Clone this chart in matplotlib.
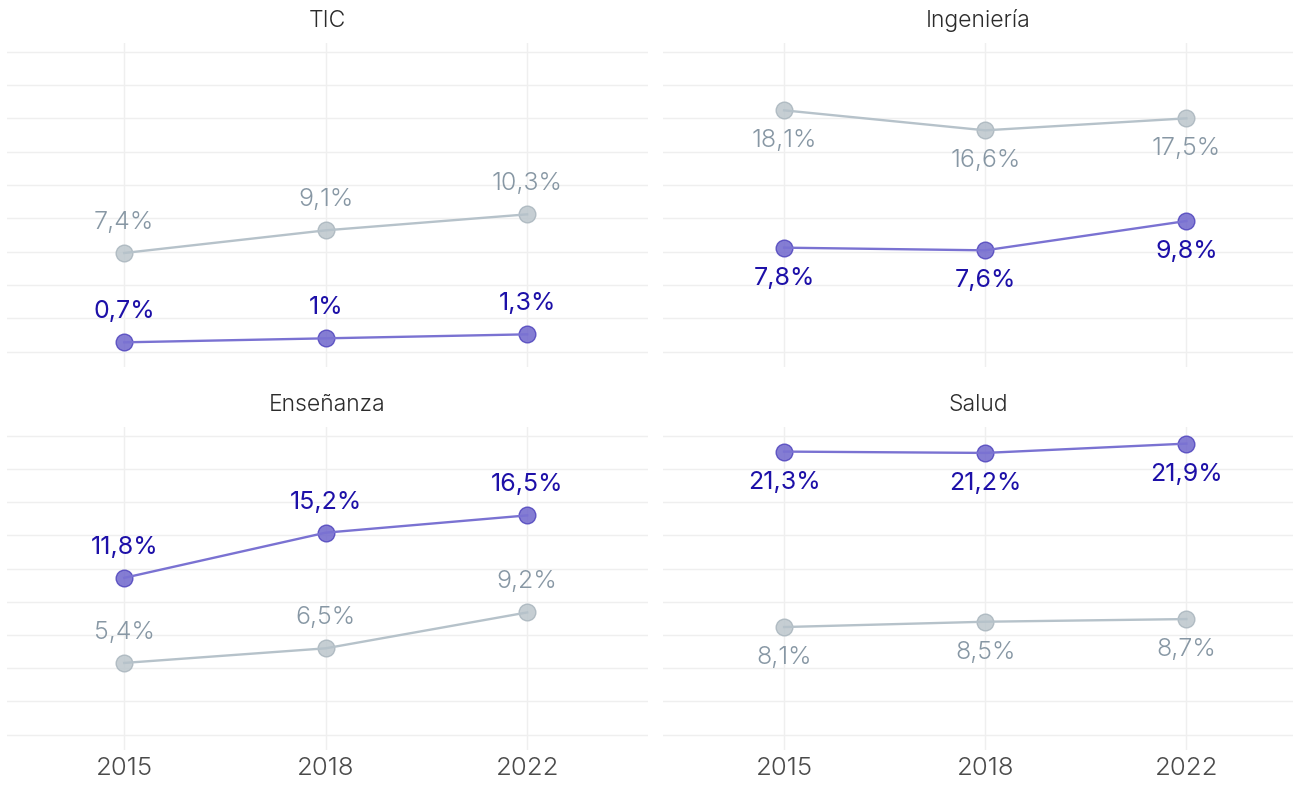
import matplotlib
matplotlib.use("Agg")
import matplotlib.pyplot as plt
from matplotlib.ticker import MultipleLocator

plt.rcParams['font.family'] = ['Inter', 'DejaVu Sans']

years = ["2015", "2018", "2022"]
panels = ["TIC", "Ingeniería", "Enseñanza", "Salud"]
mujeres = {
    "TIC": [0.7, 1.0, 1.3],
    "Ingeniería": [7.8, 7.6, 9.8],
    "Enseñanza": [11.8, 15.2, 16.5],
    "Salud": [21.3, 21.2, 21.9],
}
hombres = {
    "TIC": [7.4, 9.1, 10.3],
    "Ingeniería": [18.1, 16.6, 17.5],
    "Enseñanza": [5.4, 6.5, 9.2],
    "Salud": [8.1, 8.5, 8.7],
}
label_above = {"TIC": True, "Ingeniería": False, "Enseñanza": True, "Salud": False}

BLUE_LINE = "#7a72d2"
BLUE_PT = "#6f66cc"
BLUE_EDGE = "#4f44bd"
BLUE_TXT = "#1d10a8"
GRAY_LINE = "#b6c2ca"
GRAY_PT = "#bcc6cc"
GRAY_EDGE = "#a9b5bd"
GRAY_TXT = "#8797a4"
GRID = "#efefef"

W, H = 1297, 787
fig = plt.figure(figsize=(W / 100, H / 100), dpi=100)

def frac(x0, y0, x1, y1):
    return [x0 / W, 1 - y1 / H, (x1 - x0) / W, (y1 - y0) / H]

rects = {
    "TIC": frac(7, 43, 648, 367),
    "Ingeniería": frac(663, 43, 1293, 367),
    "Enseñanza": frac(7, 427, 648, 750),
    "Salud": frac(663, 427, 1293, 750),
}
xlims = {
    "TIC": (-0.582, 2.60),
    "Ingeniería": (-0.602, 2.53),
    "Enseñanza": (-0.582, 2.60),
    "Salud": (-0.602, 2.53),
}

def fmt(v):
    s = f"{v:.1f}"
    if s.endswith(".0"):
        s = s[:-2]
    return s.replace(".", ",") + "%"

for name in panels:
    ax = fig.add_axes(rects[name])
    ax.set_xlim(*xlims[name])
    ax.set_ylim(-1.15, 23.15)
    ax.yaxis.set_major_locator(MultipleLocator(2.5))
    ax.set_xticks(range(len(years)))
    ax.set_xticklabels(years if name in ("Enseñanza", "Salud") else [])
    ax.set_yticklabels([])
    ax.tick_params(length=0, pad=5, labelsize=18.5, labelcolor="#4a4a4a")
    for lab in ax.get_xticklabels():
        lab.set_fontweight(300)
    ax.grid(True, color=GRID, linewidth=1.0)
    ax.set_axisbelow(True)
    for sp in ax.spines.values():
        sp.set_visible(False)
    x = list(range(len(years)))
    for vals, lc, pc, ec, tc in ((hombres[name], GRAY_LINE, GRAY_PT, GRAY_EDGE, GRAY_TXT),
                                 (mujeres[name], BLUE_LINE, BLUE_PT, BLUE_EDGE, BLUE_TXT)):
        ax.plot(x, vals, color=pc, marker="o", linestyle="none", markersize=12,
                markeredgecolor=ec, markeredgewidth=1.0, alpha=0.85, zorder=3)
        ax.plot(x, vals, color=lc, linewidth=1.7, zorder=4)
        off = 22 if label_above[name] else -22
        for xi, v in zip(x, vals):
            ax.annotate(fmt(v), (xi, v), xytext=(0, off), textcoords="offset points",
                        ha="center", va="center", fontsize=18, color=tc,
                        fontweight=300 if tc == GRAY_TXT else 400, zorder=5)
    r = rects[name]
    fig.text(r[0] + r[2] / 2, r[1] + r[3] + 22 / H, name, ha="center", va="center",
             fontsize=16.5, color="#2b2b2b", fontweight=300)

fig.savefig("out.png", dpi=100, facecolor="white")
